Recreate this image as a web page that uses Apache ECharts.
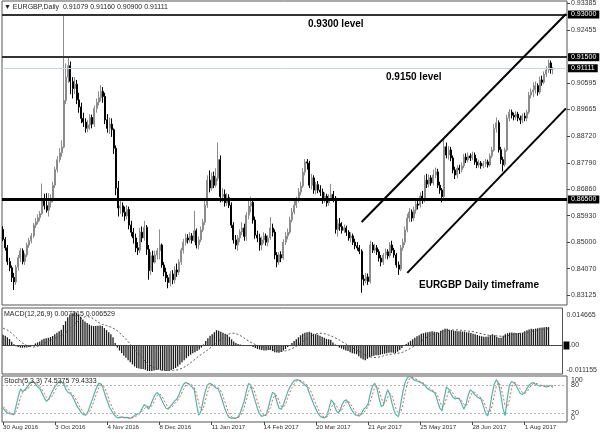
<!DOCTYPE html>
<html><head><meta charset="utf-8">
<script src="https://cdn.jsdelivr.net/npm/echarts@6/dist/echarts.min.js"></script>
<style>html,body{margin:0;padding:0;background:#fff}#c{width:600px;height:433px}</style>
</head><body><div id="c"></div>
<script>
const dateTicks = ['30 Aug 2016','3 Oct 2016','4 Nov 2016','8 Dec 2016','11 Jan 2017','14 Feb 2017','20 Mar 2017','21 Apr 2017','25 May 2017','28 Jun 2017','1 Aug 2017'];
const tickEvery = 24;
const barSlots = 260;

const opens = [
0.8545,0.8510,0.8480,0.8432,0.8410,0.8376,0.8360,0.8412,0.8445,0.8470,
0.8432,0.8455,0.8490,0.8505,0.8522,0.8560,0.8571,0.8586,0.8600,0.8650,
0.8628,0.8612,0.8640,0.8648,0.8700,0.8755,0.8790,0.8814,0.8834,0.8998,
0.9080,0.9120,0.9065,0.9040,0.9055,0.9000,0.8975,0.8935,0.8922,0.8900,
0.8912,0.8938,0.8915,0.8970,0.8992,0.9008,0.9030,0.9012,0.8930,0.8900,
0.8915,0.8895,0.8830,0.8690,0.8620,0.8628,0.8605,0.8592,0.8615,0.8560,
0.8535,0.8515,0.8480,0.8472,0.8535,0.8515,0.8552,0.8475,0.8400,0.8452,
0.8430,0.8455,0.8470,0.8490,0.8420,0.8395,0.8375,0.8358,0.8388,0.8368,
0.8402,0.8395,0.8430,0.8472,0.8500,0.8515,0.8508,0.8522,0.8506,0.8540,
0.8490,0.8508,0.8543,0.8570,0.8630,0.8718,0.8690,0.8732,0.8700,0.8725,
0.8790,0.8660,0.8668,0.8638,0.8656,0.8630,0.8560,0.8508,0.8490,0.8515,
0.8536,0.8550,0.8520,0.8595,0.8627,0.8640,0.8578,0.8525,0.8515,0.8490,
0.8508,0.8522,0.8500,0.8515,0.8550,0.8535,0.8455,0.8430,0.8456,0.8444,
0.8500,0.8522,0.8535,0.8578,0.8606,0.8630,0.8648,0.8676,0.8697,0.8746,
0.8782,0.8778,0.8700,0.8726,0.8683,0.8702,0.8683,0.8676,0.8648,0.8662,
0.8638,0.8655,0.8668,0.8655,0.8545,0.8565,0.8555,0.8542,0.8550,0.8535,
0.8515,0.8522,0.8500,0.8487,0.8480,0.8468,0.8370,0.8365,0.8378,0.8362,
0.8490,0.8472,0.8480,0.8466,0.8444,0.8430,0.8455,0.8466,0.8452,0.8490,
0.8472,0.8455,0.8420,0.8405,0.8480,0.8500,0.8543,0.8585,0.8606,0.8585,
0.8613,0.8634,0.8630,0.8662,0.8648,0.8718,0.8704,0.8726,0.8708,0.8736,
0.8747,0.8700,0.8683,0.8660,0.8835,0.8806,0.8824,0.8796,0.8754,0.8736,
0.8760,0.8754,0.8768,0.8799,0.8789,0.8803,0.8796,0.8806,0.8782,0.8771,
0.8778,0.8768,0.8775,0.8782,0.8771,0.8803,0.8824,0.8900,0.8920,0.8825,
0.8790,0.8772,0.8824,0.8936,0.8957,0.8946,0.8940,0.8950,0.8936,0.8929,
0.8943,0.8936,0.8957,0.9017,0.9028,0.9035,0.9050,0.9028,0.9070,0.9062,
0.9090,0.9105,0.9130,0.91079];

const closes = [
0.8510,0.8480,0.8432,0.8410,0.8376,0.8360,0.8412,0.8445,0.8470,0.8432,
0.8455,0.8490,0.8505,0.8522,0.8560,0.8571,0.8586,0.8600,0.8650,0.8628,
0.8612,0.8640,0.8648,0.8700,0.8755,0.8790,0.8814,0.8834,0.8998,0.9080,
0.9120,0.9065,0.9040,0.9055,0.9000,0.8975,0.8935,0.8922,0.8900,0.8912,
0.8938,0.8915,0.8970,0.8992,0.9008,0.9030,0.9012,0.8930,0.8900,0.8915,
0.8895,0.8830,0.8690,0.8620,0.8628,0.8605,0.8592,0.8615,0.8560,0.8535,
0.8515,0.8480,0.8472,0.8535,0.8515,0.8552,0.8475,0.8400,0.8452,0.8430,
0.8455,0.8470,0.8490,0.8420,0.8395,0.8375,0.8358,0.8388,0.8368,0.8402,
0.8395,0.8430,0.8472,0.8500,0.8515,0.8508,0.8522,0.8506,0.8540,0.8490,
0.8508,0.8543,0.8570,0.8630,0.8718,0.8690,0.8732,0.8700,0.8725,0.8790,
0.8660,0.8668,0.8638,0.8656,0.8630,0.8560,0.8508,0.8490,0.8515,0.8536,
0.8550,0.8520,0.8595,0.8627,0.8640,0.8578,0.8525,0.8515,0.8490,0.8508,
0.8522,0.8500,0.8515,0.8550,0.8535,0.8455,0.8430,0.8456,0.8444,0.8500,
0.8522,0.8535,0.8578,0.8606,0.8630,0.8648,0.8676,0.8697,0.8746,0.8782,
0.8778,0.8700,0.8726,0.8683,0.8702,0.8683,0.8676,0.8648,0.8662,0.8638,
0.8655,0.8668,0.8655,0.8545,0.8565,0.8555,0.8542,0.8550,0.8535,0.8515,
0.8522,0.8500,0.8487,0.8480,0.8468,0.8370,0.8365,0.8378,0.8362,0.8490,
0.8472,0.8480,0.8466,0.8444,0.8430,0.8455,0.8466,0.8452,0.8490,0.8472,
0.8455,0.8420,0.8405,0.8480,0.8500,0.8543,0.8585,0.8606,0.8585,0.8613,
0.8634,0.8630,0.8662,0.8648,0.8718,0.8704,0.8726,0.8708,0.8736,0.8747,
0.8700,0.8683,0.8660,0.8835,0.8806,0.8824,0.8796,0.8754,0.8736,0.8760,
0.8754,0.8768,0.8799,0.8789,0.8803,0.8796,0.8806,0.8782,0.8771,0.8778,
0.8768,0.8775,0.8782,0.8771,0.8803,0.8824,0.8900,0.8920,0.8825,0.8790,
0.8772,0.8824,0.8936,0.8957,0.8946,0.8940,0.8950,0.8936,0.8929,0.8943,
0.8936,0.8957,0.9017,0.9028,0.9035,0.9050,0.9028,0.9070,0.9062,0.9090,
0.9105,0.9130,0.9108,0.91111];

const lows = [
0.8503,0.8470,0.8420,0.8398,0.8360,0.8332,0.8350,0.8400,0.8430,0.8422,
0.8420,0.8448,0.8480,0.8496,0.8515,0.8550,0.8562,0.8575,0.8596,0.8615,
0.8604,0.8590,0.8622,0.8640,0.8690,0.8745,0.8780,0.8800,0.8830,0.8985,
0.9060,0.9020,0.9005,0.9020,0.8985,0.8955,0.8918,0.8905,0.8885,0.8886,
0.8895,0.8900,0.8905,0.8955,0.8980,0.8995,0.8990,0.8915,0.8885,0.8880,
0.8870,0.8810,0.8665,0.8590,0.8600,0.8590,0.8575,0.8580,0.8545,0.8520,
0.8495,0.8465,0.8455,0.8462,0.8500,0.8505,0.8455,0.8368,0.8385,0.8395,
0.8425,0.8440,0.8440,0.8410,0.8380,0.8360,0.8338,0.8345,0.8352,0.8355,
0.8378,0.8385,0.8420,0.8460,0.8488,0.8495,0.8498,0.8495,0.8500,0.8478,
0.8475,0.8500,0.8535,0.8560,0.8620,0.8675,0.8680,0.8690,0.8692,0.8715,
0.8640,0.8640,0.8625,0.8628,0.8620,0.8550,0.8495,0.8475,0.8470,0.8500,
0.8525,0.8505,0.8505,0.8580,0.8605,0.8565,0.8512,0.8500,0.8470,0.8472,
0.8495,0.8488,0.8485,0.8508,0.8520,0.8440,0.8412,0.8420,0.8430,0.8438,
0.8490,0.8510,0.8528,0.8570,0.8598,0.8620,0.8640,0.8665,0.8690,0.8735,
0.8755,0.8690,0.8685,0.8670,0.8668,0.8672,0.8662,0.8635,0.8638,0.8625,
0.8628,0.8645,0.8640,0.8530,0.8520,0.8540,0.8530,0.8532,0.8522,0.8505,
0.8500,0.8490,0.8475,0.8470,0.8458,0.8322,0.8348,0.8355,0.8350,0.8355,
0.8462,0.8462,0.8455,0.8432,0.8415,0.8420,0.8442,0.8440,0.8445,0.8462,
0.8445,0.8410,0.8385,0.8398,0.8470,0.8490,0.8535,0.8570,0.8572,0.8575,
0.8600,0.8615,0.8622,0.8635,0.8640,0.8690,0.8692,0.8698,0.8700,0.8725,
0.8690,0.8670,0.8640,0.8655,0.8795,0.8790,0.8785,0.8742,0.8722,0.8725,
0.8740,0.8745,0.8760,0.8778,0.8780,0.8785,0.8788,0.8772,0.8760,0.8762,
0.8758,0.8760,0.8765,0.8762,0.8765,0.8795,0.8818,0.8885,0.8815,0.8775,
0.8748,0.8765,0.8818,0.8925,0.8935,0.8928,0.8930,0.8925,0.8915,0.8918,
0.8925,0.8925,0.8950,0.9005,0.9010,0.9022,0.9015,0.9020,0.9050,0.9055,
0.9080,0.9095,0.9092,0.90900];

const highs = [
0.8556,0.8518,0.8490,0.8445,0.8418,0.8392,0.8420,0.8455,0.8480,0.8478,
0.8462,0.8498,0.8515,0.8532,0.8568,0.8585,0.8598,0.8610,0.8706,0.8670,
0.8672,0.8672,0.8668,0.8712,0.8765,0.8802,0.8830,0.8858,0.9300,0.9128,
0.9148,0.9135,0.9080,0.9080,0.9070,0.9025,0.8990,0.8955,0.8935,0.8930,
0.8950,0.8948,0.8980,0.9005,0.9030,0.9052,0.9045,0.9025,0.8950,0.8938,
0.8935,0.8900,0.8840,0.8715,0.8650,0.8640,0.8625,0.8630,0.8625,0.8575,
0.8550,0.8530,0.8500,0.8550,0.8555,0.8575,0.8560,0.8490,0.8465,0.8470,
0.8470,0.8480,0.8545,0.8495,0.8430,0.8410,0.8385,0.8398,0.8402,0.8415,
0.8425,0.8440,0.8480,0.8512,0.8530,0.8528,0.8535,0.8532,0.8610,0.8548,
0.8520,0.8555,0.8582,0.8645,0.8735,0.8752,0.8745,0.8748,0.8760,0.8850,
0.8805,0.8690,0.8685,0.8672,0.8668,0.8640,0.8570,0.8525,0.8525,0.8545,
0.8570,0.8565,0.8605,0.8645,0.8660,0.8648,0.8590,0.8540,0.8530,0.8520,
0.8535,0.8530,0.8525,0.8588,0.8565,0.8545,0.8465,0.8465,0.8468,0.8510,
0.8535,0.8548,0.8590,0.8620,0.8648,0.8660,0.8690,0.8712,0.8760,0.8792,
0.8792,0.8786,0.8740,0.8735,0.8712,0.8715,0.8700,0.8688,0.8675,0.8670,
0.8668,0.8705,0.8680,0.8662,0.8580,0.8585,0.8570,0.8562,0.8558,0.8542,
0.8535,0.8530,0.8512,0.8500,0.8490,0.8475,0.8385,0.8392,0.8390,0.8505,
0.8500,0.8495,0.8490,0.8475,0.8455,0.8462,0.8478,0.8475,0.8500,0.8505,
0.8480,0.8462,0.8432,0.8490,0.8512,0.8555,0.8600,0.8620,0.8615,0.8625,
0.8645,0.8655,0.8675,0.8680,0.8735,0.8740,0.8738,0.8735,0.8755,0.8762,
0.8758,0.8712,0.8690,0.8862,0.8850,0.8838,0.8835,0.8805,0.8765,0.8770,
0.8772,0.8780,0.8810,0.8812,0.8815,0.8812,0.8818,0.8815,0.8795,0.8790,
0.8785,0.8785,0.8792,0.8790,0.8812,0.8835,0.8915,0.8938,0.8928,0.8835,
0.8800,0.8832,0.8948,0.8968,0.8966,0.8955,0.8960,0.8958,0.8945,0.8952,
0.8955,0.8965,0.9028,0.9040,0.9062,0.9065,0.9058,0.9082,0.9085,0.9100,
0.9118,0.9142,0.9138,0.91160];

const macdHist = [
0.0042,0.0038,0.0032,0.0025,0.0015,0.0005,-0.0003,-0.0006,-0.0008,-0.0009,
-0.0008,-0.0008,-0.0006,-0.0003,0.0002,0.0008,0.0012,0.0016,0.0022,0.0026,
0.0028,0.0030,0.0033,0.0037,0.0044,0.0050,0.0056,0.0062,0.0080,0.0095,
0.0110,0.0120,0.0126,0.0130,0.0128,0.0122,0.0112,0.0102,0.0094,0.0088,
0.0082,0.0078,0.0076,0.0076,0.0077,0.0078,0.0076,0.0068,0.0060,0.0052,
0.0044,0.0032,0.0010,-0.0008,-0.0020,-0.0030,-0.0040,-0.0048,-0.0058,-0.0066,
-0.0074,-0.0082,-0.0088,-0.0090,-0.0092,-0.0092,-0.0095,-0.0100,-0.0100,-0.0100,
-0.0098,-0.0096,-0.0094,-0.0096,-0.0098,-0.0099,-0.0100,-0.0098,-0.0096,-0.0092,
-0.0088,-0.0082,-0.0074,-0.0066,-0.0058,-0.0050,-0.0042,-0.0036,-0.0030,-0.0026,
-0.0022,-0.0016,-0.0008,0.0004,0.0018,0.0028,0.0038,0.0044,0.0052,0.0060,
0.0058,0.0054,0.0050,0.0046,0.0042,0.0034,0.0024,0.0016,0.0010,0.0006,
0.0004,0.0000,0.0000,0.0002,0.0002,-0.0002,-0.0006,-0.0010,-0.0014,-0.0016,
-0.0018,-0.0020,-0.0020,-0.0018,-0.0018,-0.0022,-0.0026,-0.0027,-0.0028,-0.0025,
-0.0020,-0.0014,-0.0006,0.0002,0.0010,0.0018,0.0024,0.0032,0.0040,0.0046,
0.0050,0.0052,0.0054,0.0050,0.0046,0.0044,0.0042,0.0038,0.0034,0.0030,
0.0026,0.0024,0.0022,0.0012,0.0004,-0.0002,-0.0008,-0.0012,-0.0016,-0.0020,
-0.0022,-0.0026,-0.0030,-0.0032,-0.0034,-0.0042,-0.0050,-0.0055,-0.0058,-0.0052,
-0.0046,-0.0042,-0.0040,-0.0038,-0.0038,-0.0036,-0.0034,-0.0032,-0.0030,-0.0028,
-0.0027,-0.0028,-0.0030,-0.0024,-0.0018,-0.0010,-0.0002,0.0006,0.0012,0.0018,
0.0024,0.0030,0.0036,0.0040,0.0046,0.0048,0.0051,0.0052,0.0054,0.0056,
0.0054,0.0052,0.0050,0.0058,0.0062,0.0065,0.0065,0.0062,0.0060,0.0058,
0.0057,0.0056,0.0056,0.0055,0.0054,0.0052,0.0051,0.0049,0.0046,0.0044,
0.0041,0.0038,0.0036,0.0034,0.0034,0.0035,0.0040,0.0044,0.0040,0.0034,
0.0030,0.0030,0.0038,0.0044,0.0048,0.0050,0.0051,0.0050,0.0049,0.0049,
0.0048,0.0050,0.0056,0.0060,0.0063,0.0065,0.0064,0.0066,0.0067,0.0069,
0.0070,0.0071,0.0072,0.007215];

const macdSignal = [
0.0068,0.0064,0.0060,0.0055,0.0048,0.0040,0.0032,0.0024,0.0016,0.0010,
0.0005,0.0000,-0.0003,-0.0005,-0.0006,-0.0005,-0.0003,0.0000,0.0004,0.0008,
0.0013,0.0017,0.0021,0.0025,0.0028,0.0031,0.0035,0.0039,0.0044,0.0050,
0.0057,0.0065,0.0073,0.0082,0.0090,0.0098,0.0104,0.0109,0.0112,0.0113,
0.0112,0.0109,0.0104,0.0098,0.0092,0.0087,0.0083,0.0080,0.0078,0.0075,
0.0072,0.0068,0.0063,0.0057,0.0050,0.0042,0.0033,0.0024,0.0015,0.0005,
-0.0005,-0.0015,-0.0025,-0.0035,-0.0045,-0.0054,-0.0062,-0.0070,-0.0076,-0.0082,
-0.0087,-0.0091,-0.0094,-0.0096,-0.0097,-0.0098,-0.0098,-0.0098,-0.0098,-0.0097,
-0.0096,-0.0095,-0.0092,-0.0089,-0.0085,-0.0080,-0.0074,-0.0068,-0.0061,-0.0054,
-0.0047,-0.0041,-0.0035,-0.0029,-0.0023,-0.0017,-0.0010,-0.0003,0.0004,0.0011,
0.0018,0.0025,0.0031,0.0037,0.0042,0.0046,0.0048,0.0048,0.0046,0.0043,
0.0039,0.0034,0.0028,0.0022,0.0017,0.0012,0.0008,0.0004,0.0001,-0.0002,
-0.0005,-0.0008,-0.0011,-0.0013,-0.0015,-0.0017,-0.0019,-0.0020,-0.0021,-0.0022,
-0.0022,-0.0021,-0.0019,-0.0016,-0.0012,-0.0008,-0.0003,0.0003,0.0009,0.0015,
0.0021,0.0027,0.0033,0.0038,0.0042,0.0045,0.0047,0.0048,0.0048,0.0046,
0.0044,0.0041,0.0038,0.0034,0.0030,0.0026,0.0021,0.0016,0.0011,0.0006,
0.0001,-0.0004,-0.0009,-0.0014,-0.0018,-0.0022,-0.0027,-0.0032,-0.0037,-0.0041,
-0.0044,-0.0046,-0.0047,-0.0047,-0.0046,-0.0044,-0.0042,-0.0039,-0.0037,-0.0035,
-0.0034,-0.0033,-0.0032,-0.0031,-0.0029,-0.0027,-0.0024,-0.0020,-0.0016,-0.0011,
-0.0006,0.0000,0.0006,0.0012,0.0018,0.0024,0.0029,0.0034,0.0038,0.0042,
0.0045,0.0048,0.0050,0.0052,0.0054,0.0056,0.0058,0.0059,0.0060,0.0061,
0.0061,0.0061,0.0060,0.0059,0.0058,0.0057,0.0056,0.0055,0.0054,0.0052,
0.0050,0.0048,0.0046,0.0044,0.0042,0.0040,0.0039,0.0038,0.0038,0.0038,
0.0037,0.0036,0.0036,0.0037,0.0038,0.0040,0.0042,0.0044,0.0046,0.0047,
0.0048,0.0049,0.0050,0.0051,0.0053,0.0055,0.0057,0.0059,0.0060,0.0062,
0.0063,0.0064,0.0065,0.006529];

const stochMain = [
30,24,20,18,17,16,35,55,72,66,
70,75,82,87,88,82,76,72,62,52,
45,50,60,70,78,84,88,87,82,70,
64,62,55,45,35,28,20,16,15,22,
35,48,62,75,84,83,74,58,45,32,
24,16,11,9,10,11,9,10,8,9,
12,16,18,20,30,38,34,28,38,50,
60,64,58,48,38,30,28,34,40,46,
50,60,72,82,86,84,80,76,70,40,
15,22,45,66,80,84,82,78,74,72,
60,45,30,18,10,8,9,8,10,18,
32,46,68,84,80,62,46,30,18,12,
14,16,30,50,64,62,44,30,28,38,
52,66,76,84,90,92,91,88,84,80,
76,62,50,38,28,18,12,10,9,14,
30,48,42,28,20,24,38,46,48,40,
30,22,16,14,13,20,28,32,40,62,
78,84,74,52,34,36,56,70,60,40,
24,14,12,40,66,86,96,100,96,92,
90,88,86,84,80,74,70,68,66,60,
44,30,24,52,76,72,62,54,50,52,
50,40,28,38,58,70,66,60,55,52,
50,35,20,13,30,60,82,92,84,60,
30,14,50,80,88,86,80,70,62,60,
64,72,80,84,86,82,80,78,80,78,
76,78,80,74.5375];

const stochSignal = [
34,28,25,21,18,17,23,35,54,64,
69,70,76,81,86,86,82,77,70,62,
53,49,52,60,69,77,83,86,86,80,
72,65,60,54,45,36,28,21,17,18,
24,35,48,62,74,81,80,72,59,45,
34,24,17,12,10,10,10,10,9,9,
10,12,15,18,23,29,34,33,33,39,
49,58,61,57,48,39,32,31,34,40,
45,52,61,71,80,84,83,80,75,62,
42,26,27,44,64,77,82,81,78,75,
69,59,45,31,19,12,9,8,9,12,
20,32,49,66,77,75,63,46,31,20,
15,14,20,32,48,59,57,45,34,32,
39,52,65,75,83,89,91,90,88,84,
80,73,63,50,39,28,19,13,10,11,
18,31,40,39,30,24,27,36,44,45,
39,31,23,17,14,16,20,27,33,45,
60,75,79,70,53,41,42,54,62,57,
41,26,17,22,39,64,83,94,97,96,
93,90,88,86,83,79,75,71,68,65,
57,45,33,35,51,67,70,63,55,52,
51,47,39,35,41,55,65,65,60,56,
52,46,35,23,21,34,57,78,86,79,
58,35,31,48,73,85,85,79,71,64,
62,65,72,79,83,84,83,80,79,79,
78,77,78,79.4333];

const priceTicks = [0.93385,0.92455,0.90595,0.89665,0.88720,0.87790,0.86860,0.85930,0.85000,0.84070,0.83125];
const levelLines = [0.9300, 0.9150, 0.8650];
const lastPrice = 0.91111;
const channelUpper = [[165, 0.8571], [259, 0.9302]];
const channelLower = [[186, 0.8392], [259, 0.8970]];
const macdTicks = [0.014665, -0.011155];
const stochInnerTicks = [80, 20];
const stochOuterTicks = [100, 0];
const stochLevels = [80, 20];
const annotations = ['0.9300 level', '0.9150 level', 'EURGBP Daily timeframe'];

const FONT = '"Liberation Sans", Arial, sans-serif';
const categories = Array.from({length: barSlots}, (_, i) => String(i));
const candles = opens.map((o, i) => [o, closes[i], lows[i], highs[i]]);
const last = opens.length - 1;

const hiLabel = (txt) => ({
  show: true, position: 'end', distance: 1, formatter: txt,
  backgroundColor: '#000', color: '#fff', fontSize: 7, fontFamily: FONT, padding: [1, 3, 0, 3]
});

const chart = echarts.init(document.getElementById('c'), null, {renderer: 'canvas'});
const grids = [
  {left: 2, top: 1, width: 565, height: 304},
  {left: 2, top: 308, width: 565, height: 66},
  {left: 2, top: 376, width: 565, height: 46}
].map(g => Object.assign(g, {show: true, borderColor: '#555', borderWidth: 1, backgroundColor: '#fff'}));

const isDateTick = (i) => i % tickEvery === 0 && i / tickEvery < dateTicks.length;
const xAx = (gi, showLabels) => ({
  type: 'category', gridIndex: gi, data: categories, boundaryGap: true,
  axisLine: {show: false},
  axisTick: showLabels ? {show: true, alignWithLabel: true, length: 3, lineStyle: {color: '#444'}, interval: isDateTick} : {show: false},
  axisLabel: showLabels ? {
    show: true, align: 'left', margin: 2, fontSize: 6.2, fontFamily: FONT, color: '#333',
    interval: isDateTick,
    formatter: (v) => dateTicks[Math.round(Number(v) / tickEvery)] || ''
  } : {show: false},
  splitLine: {show: false}
});

const stochAxis = (ticks) => ({
  type: 'value', gridIndex: 2, position: 'right', offset: 0, min: 0, max: 100,
  axisLine: {show: false}, splitLine: {show: false}, axisTick: {show: false},
  axisLabel: {show: true, customValues: ticks, showMinLabel: true, showMaxLabel: true, margin: 4,
    fontSize: 7, fontFamily: FONT, color: '#333',
    formatter: v => v === 100 ? '{t|100}' : (v === 0 ? '{b|0}' : String(v)),
    rich: {t: {padding: [8, 0, 0, 0], fontSize: 7, fontFamily: FONT, color: '#333'},
           b: {padding: [0, 0, 8, 0], fontSize: 7, fontFamily: FONT, color: '#333'}}}
});

const option = {
  animation: false,
  backgroundColor: '#fff',
  grid: grids,
  xAxis: [xAx(0, false), xAx(1, false), xAx(2, true)],
  yAxis: [
    {type: 'value', gridIndex: 0, position: 'right', min: 0.82792, max: 0.93475,
     axisLine: {show: false}, splitLine: {show: false},
     axisTick: {show: true, length: 3, customValues: priceTicks, lineStyle: {color: '#444'}},
     axisLabel: {show: true, customValues: priceTicks, showMinLabel: true, showMaxLabel: true, margin: 4,
       fontSize: 7, fontFamily: FONT, color: '#333', formatter: v => v.toFixed(5)}},
    {type: 'value', gridIndex: 1, position: 'right', min: -0.011155, max: 0.014665,
     axisLine: {show: false}, splitLine: {show: false},
     axisTick: {show: false},
     axisLabel: {show: true, customValues: macdTicks, showMinLabel: true, showMaxLabel: true, margin: 4,
       fontSize: 7, fontFamily: FONT, color: '#333',
       formatter: v => v > 0 ? '{t|' + v.toFixed(6) + '}' : '{b|' + v.toFixed(6) + '}',
       rich: {t: {padding: [14, 0, 0, 0], fontSize: 7, fontFamily: FONT, color: '#333'},
              b: {padding: [0, 0, 8, 0], fontSize: 7, fontFamily: FONT, color: '#333'}}}},
    stochAxis(stochInnerTicks),
    stochAxis(stochOuterTicks)
  ],
  series: [
    {type: 'candlestick', xAxisIndex: 0, yAxisIndex: 0, data: candles, barWidth: 1.5,
     itemStyle: {color: '#c8c8c8', color0: '#000', borderColor: '#8c8c8c', borderColor0: '#000', borderWidth: 1},
     markLine: {
       silent: true, symbol: ['none', 'none'], animation: false, precision: 6,
       data: [
         {yAxis: levelLines[0], lineStyle: {color: '#333', width: 2, type: 'solid'}, label: hiLabel(levelLines[0].toFixed(5))},
         {yAxis: levelLines[1], lineStyle: {color: '#333', width: 2, type: 'solid'}, label: hiLabel(levelLines[1].toFixed(5))},
         {yAxis: levelLines[2], lineStyle: {color: '#000', width: 3, type: 'solid'}, label: hiLabel(levelLines[2].toFixed(5))},
         {yAxis: lastPrice, lineStyle: {color: '#c9d6de', width: 1, type: 'solid'}, label: hiLabel(lastPrice.toFixed(5))},
         [{coord: channelUpper[0]}, {coord: channelUpper[1], lineStyle: {color: '#000', width: 2, type: 'solid'}, label: {show: false}}],
         [{coord: channelLower[0]}, {coord: channelLower[1], lineStyle: {color: '#000', width: 2, type: 'solid'}, label: {show: false}}]
       ]
     }},
    {type: 'bar', xAxisIndex: 1, yAxisIndex: 1, data: macdHist, barWidth: 1.3,
     itemStyle: {color: '#1a1a1a'},
     markLine: {silent: true, symbol: ['none', 'none'], animation: false, precision: 6,
       data: [{yAxis: 0, lineStyle: {color: '#444', width: 1, type: 'solid'},
         label: {show: true, position: 'end', distance: 1, formatter: '{k|0}{n|.00}',
           rich: {k: {backgroundColor: '#000', color: '#000', fontSize: 7, padding: [1, 1, 0, 1], fontFamily: FONT},
                  n: {color: '#333', fontSize: 7, fontFamily: FONT}}}}]}},
    {type: 'line', xAxisIndex: 1, yAxisIndex: 1, data: macdSignal, symbol: 'none',
     lineStyle: {color: '#555', width: 1, type: [2, 2]}},
    {type: 'line', xAxisIndex: 2, yAxisIndex: 2, data: stochMain, symbol: 'none',
     lineStyle: {color: '#4fb5aa', width: 1.2},
     markLine: {silent: true, symbol: ['none', 'none'], animation: false, precision: 6, label: {show: false},
       data: stochLevels.map(v => ({yAxis: v, lineStyle: {color: '#b0b0b0', width: 1, type: [2, 2]}}))}},
    {type: 'line', xAxisIndex: 2, yAxisIndex: 2, data: stochSignal, symbol: 'none',
     lineStyle: {color: '#e0605a', width: 1, type: [2, 2]}}
  ],
  graphic: [
    {type: 'text', x: 4, y: 7, z: 100, style: {text: '\u25BC EURGBP,Daily  ' + opens[last].toFixed(5) + ' ' + highs[last].toFixed(5) + ' ' + lows[last].toFixed(5) + ' ' + closes[last].toFixed(5),
      font: '7px ' + FONT, fill: '#222', verticalAlign: 'middle'}},
    {type: 'text', x: 4, y: 314, z: 100, style: {text: 'MACD(12,26,9) ' + macdHist[last].toFixed(6) + ' ' + macdSignal[last].toFixed(6),
      font: '7px ' + FONT, fill: '#222', verticalAlign: 'middle'}},
    {type: 'text', x: 4, y: 381, z: 100, style: {text: 'Stoch(5,3,3) ' + stochMain[last].toFixed(4) + ' ' + stochSignal[last].toFixed(4),
      font: '7px ' + FONT, fill: '#222', verticalAlign: 'middle'}},
    {type: 'text', x: 308, y: 24, z: 100, style: {text: annotations[0], font: 'bold 10px ' + FONT, fill: '#000', verticalAlign: 'middle'}},
    {type: 'text', x: 386, y: 77, z: 100, style: {text: annotations[1], font: 'bold 10px ' + FONT, fill: '#000', verticalAlign: 'middle'}},
    {type: 'text', x: 419, y: 285, z: 100, style: {text: annotations[2], font: 'bold 10px ' + FONT, fill: '#000', verticalAlign: 'middle'}}
  ]
};
chart.setOption(option);
</script>
</body></html>
